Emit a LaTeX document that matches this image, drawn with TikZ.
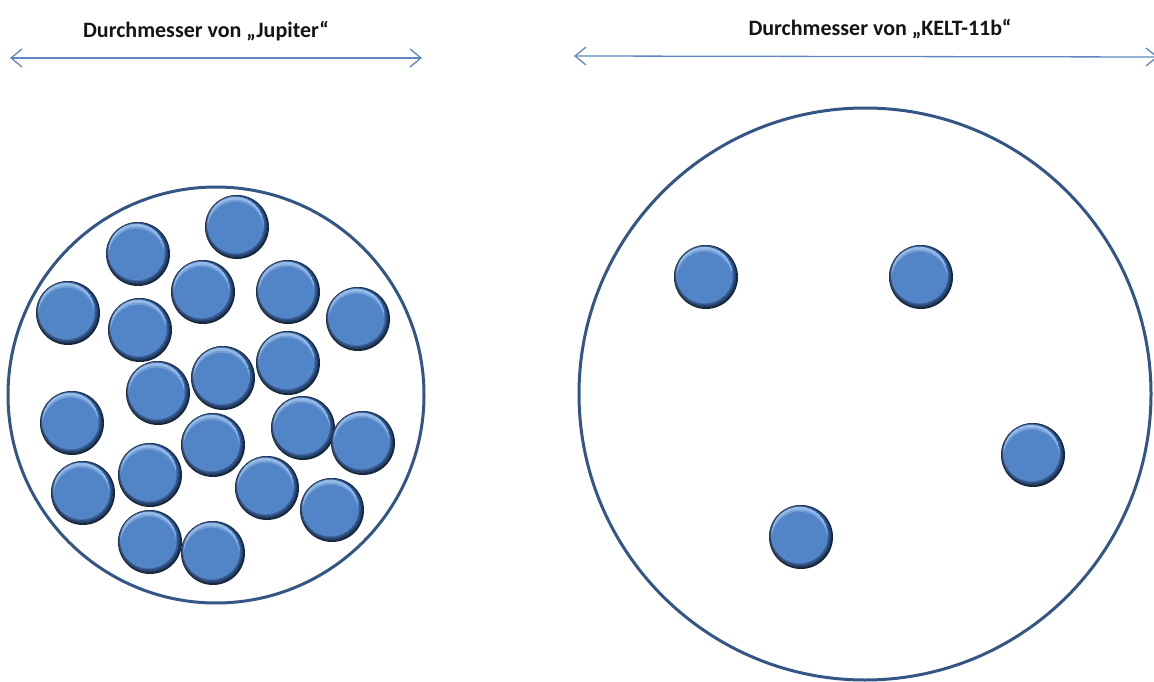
\documentclass[tikz,border=0pt]{standalone}
\usepackage{fontspec}
\setmainfont{Carlito}
\usetikzlibrary{arrows.meta}
\definecolor{ballmid}{RGB}{82,132,200}
\definecolor{balllight}{RGB}{150,186,230}
\definecolor{ballshadow}{RGB}{50,86,138}
\definecolor{balldark}{RGB}{24,38,60}
\definecolor{ringcol}{RGB}{52,86,135}
\definecolor{arrowcol}{RGB}{95,135,190}
\definecolor{titlecol}{RGB}{20,20,20}
\tikzset{
  ball/.style={circle, minimum size=64pt, inner sep=0pt, fill=balldark,
    path picture={
      \begin{scope}[shift={(path picture bounding box.center)}]
        \fill[balldark!50!ballshadow] (-0.7pt,0.8pt) circle (31pt);
        \fill[ballshadow] (-1pt,1.3pt) circle (29.8pt);
        \fill[ballshadow!50!ballmid] (-1.3pt,1.8pt) circle (28.8pt);
        \fill[ballmid] (-1.5pt,2.2pt) circle (28pt);
        \begin{scope}
          \clip (-1.5pt,2.2pt) circle (28pt);
          \fill[balllight, even odd rule] (-1.5pt,2.2pt) circle (28pt) (-1.5pt,-0.8pt) circle (28pt);
          \fill[balllight!50!ballmid, even odd rule] (-1.5pt,-0.8pt) circle (28pt) (-1.5pt,-2.6pt) circle (28pt);
        \end{scope}
      \end{scope}
    }},
  ring/.style={circle, draw=ringcol, line width=3pt, inner sep=0pt},
  dimarrow/.style={draw=arrowcol, line width=1.3pt, {Straight Barb[length=11pt,width=18pt]}-{Straight Barb[length=11pt,width=18pt]}},
  title/.style={font=\bfseries\fontsize{22}{24}\selectfont, text=titlecol, inner sep=0pt}
}
\begin{document}
\begin{tikzpicture}[x=1pt,y=-1pt]
\useasboundingbox (0,0) rectangle (1154,682);
% titles
\node[title] (tj) at (206,31) {Durchmesser von „Jupiter“};
\node[title] (tk) at (880,29) {Durchmesser von „KELT-11b“};
% dimension arrows
\coordinate (ja) at (10,58);
\coordinate (jb) at (422,58);
\coordinate (ka) at (574,56);
\coordinate (kb) at (1158,57);
\draw[dimarrow] (ja) -- (jb);
\draw[dimarrow] (ka) -- (kb);
% big circles
\node[ring, minimum size=416pt] (jup) at (216,395) {};
\node[ring, minimum size=572pt] (kelt) at (865,394) {};
% Jupiter balls
\node[ball] (j1) at (237,227) {};
\node[ball] (j2) at (138,254) {};
\node[ball] (j3) at (203,292) {};
\node[ball] (j4) at (288,292) {};
\node[ball] (j5) at (68,313) {};
\node[ball] (j6) at (358,319) {};
\node[ball] (j7) at (140,330) {};
\node[ball] (j8) at (288,363) {};
\node[ball] (j9) at (223,378) {};
\node[ball] (j10) at (158,393) {};
\node[ball] (j11) at (72,423) {};
\node[ball] (j12) at (303,428) {};
\node[ball] (j13) at (213,445) {};
\node[ball] (j14) at (363,443) {};
\node[ball] (j15) at (150,475) {};
\node[ball] (j16) at (83,493) {};
\node[ball] (j17) at (267,488) {};
\node[ball] (j18) at (332,510) {};
\node[ball] (j19) at (150,542) {};
\node[ball] (j20) at (213,553) {};
% KELT balls
\node[ball] (k1) at (706,277) {};
\node[ball] (k2) at (921,277) {};
\node[ball] (k3) at (1033,455) {};
\node[ball] (k4) at (801,537) {};
\end{tikzpicture}
\end{document}
